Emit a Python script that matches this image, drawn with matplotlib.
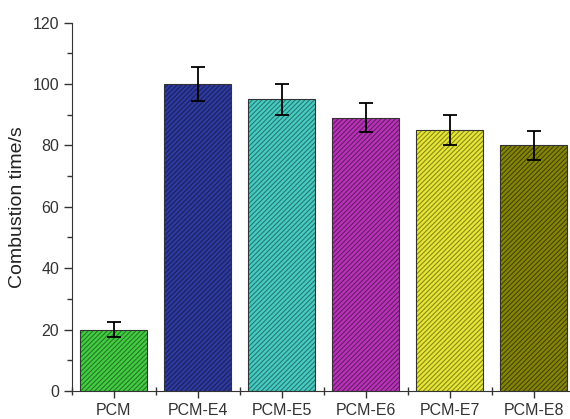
import matplotlib
matplotlib.use("Agg")
import matplotlib.pyplot as plt
from matplotlib.ticker import MultipleLocator
import numpy as np

plt.rcParams['font.family'] = ['Liberation Sans', 'DejaVu Sans']
plt.rcParams['hatch.linewidth'] = 0.8

samples = ["PCM", "PCM-E4", "PCM-E5", "PCM-E6", "PCM-E7", "PCM-E8"]
times = [20, 100, 95, 89, 85, 80]
errors = [2.3, 5.6, 5.0, 4.7, 4.8, 4.8]
fill_colors = ["#44cc44", "#2e3a9e", "#48cbc2", "#b833b8", "#e6e638", "#858508"]
hatch_colors = ["#237a23", "#1a2160", "#247a72", "#6a1a6a", "#8a8a18", "#454500"]

fig = plt.figure(figsize=(5.7, 4.19), dpi=100)
ax = fig.add_axes([0.126, 0.067, 0.874, 0.879])

x = np.arange(len(samples))
for i in range(len(samples)):
    ax.bar(x[i], times[i], width=0.8, color=fill_colors[i], edgecolor=hatch_colors[i],
           hatch='/' * 7, linewidth=0, zorder=2)
ax.bar(x, times, width=0.8, fill=False, edgecolor='#333333', linewidth=0.8, zorder=3)
ax.errorbar(x, times, yerr=errors, fmt='none', ecolor='black', elinewidth=1.3,
            capsize=5, capthick=1.3, zorder=4)

ax.set_xlim(-0.5, 5.43)
ax.set_ylim(0, 120)
ax.set_xticks(x)
ax.set_xticklabels(samples)
ax.xaxis.set_minor_locator(MultipleLocator(1, offset=0.5))
ax.yaxis.set_major_locator(MultipleLocator(20))
ax.yaxis.set_minor_locator(MultipleLocator(10))
ax.tick_params(axis='both', which='major', direction='out', length=6, width=1, labelsize=11.5,
               colors='#333333', pad=3)
ax.tick_params(axis='both', which='minor', direction='out', length=3.5, width=1, colors='#333333')
ax.tick_params(axis='x', which='major', length=5, pad=4)
ax.tick_params(axis='x', which='minor', direction='inout', length=6)
ax.set_ylabel("Combustion time/s", fontsize=14, color='#222222', labelpad=5)

ax.spines['top'].set_visible(False)
ax.spines['right'].set_visible(False)
ax.spines['left'].set_color('#333333')
ax.spines['bottom'].set_color('#333333')

fig.savefig("out.png", dpi=100)
